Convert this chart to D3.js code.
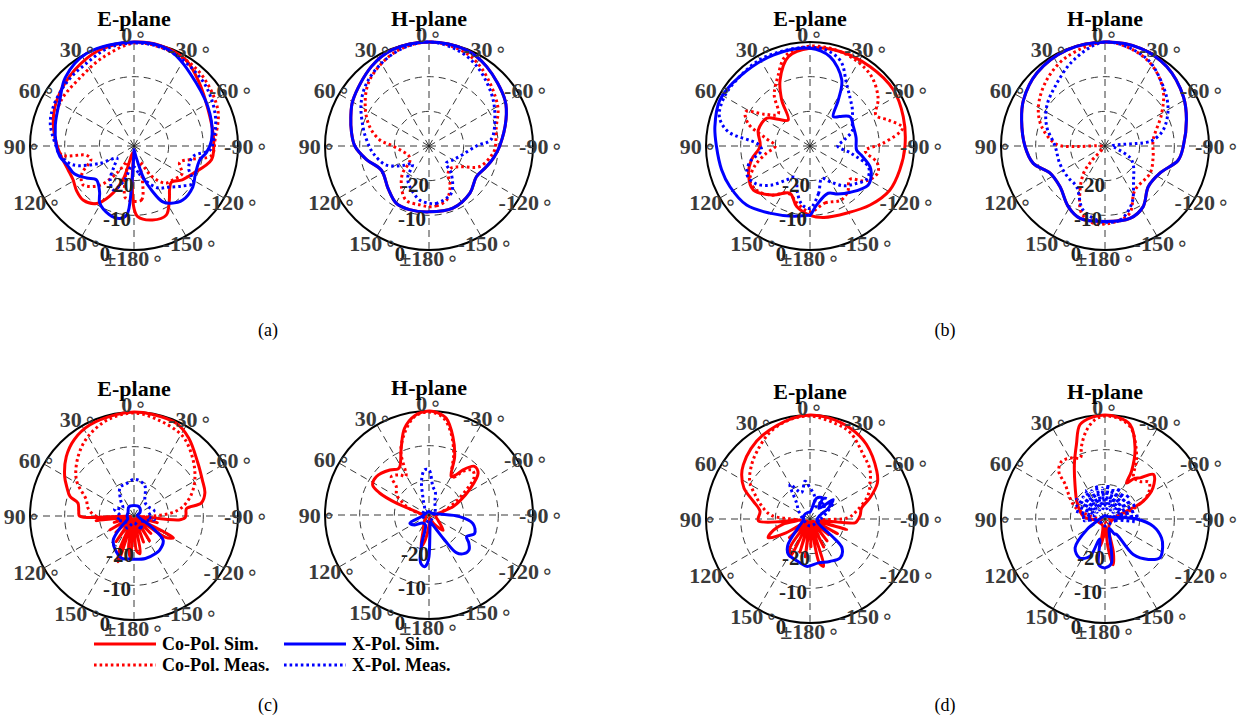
<!DOCTYPE html>
<html>
<head>
<meta charset="utf-8">
<script src="https://cdn.jsdelivr.net/npm/d3@7"></script>
<style>
  body { margin: 0; background: #fff; }
  svg { display: block; }
</style>
</head>
<body>
<svg id="chart" width="1246" height="720"></svg>
<script>
// ---- angular / radial ticks -------------------------------------------
const angleTicks  = [0, 30, 60, 90, 120, 150, 180, -150, -120, -90, -60, -30];
const angleLabels = ["0", "30", "60", "90", "120", "150", "\u00b1180", "-150", "-120", "-90", "-60", "-30"];
const radialTicks  = [-20, -10, 0];
const radialLabels = ["-20", "-10", "0"];
const seriesNames  = ["Co-Pol. Sim.", "Co-Pol. Meas.", "X-Pol. Sim.", "X-Pol. Meas."];
const captions     = ["(a)", "(b)", "(c)", "(d)"];

// ---- pattern data: [angle in degrees, gain in dB] ---------------------
// (a) E-plane
const aE_coSim  = [[-180,-12],[-177,-9.6],[-166,-8],[-155,-8],[-147,-11.3],[-140,-14],[-134,-15],[-125,-13],[-115,-11.2],[-100,-7.3],[-90,-7],[-81,-6.9],[-64,-6.2],[-46,-3.8],[-31,-1],[-14,0],[0,0],[20,-0.6],[38,-2.2],[57,-3.9],[72,-5.5],[88,-7.6],[100,-9],[110,-9.8],[119,-9.9],[128,-9],[137,-8.6],[147,-10.2],[154,-13.8],[162,-20],[170,-28],[177,-20]];
const aE_coMeas = [[-180,-14],[-172,-14.3],[-166,-20],[-160,-25],[-150,-20],[-140,-16],[-130,-15],[-120,-14],[-110,-16],[-103,-13],[-97,-7.5],[-85,-6.5],[-67,-3.7],[-45,-1.8],[-30,-1],[-15,-0.5],[0,-0.3],[20,-3],[40,-5],[58,-5.2],[74,-6.2],[88,-7.5],[97,-9],[101,-16],[107,-17],[118,-13],[127,-11.5],[139,-15],[148,-21],[157,-25],[165,-20],[170,-15],[174,-14.3]];
const aE_xSim   = [[-180,-29],[-170,-27],[-163,-20],[-158,-16],[-153,-12],[-147,-10.3],[-138,-9],[-125,-9.3],[-115,-10.5],[-102,-10.6],[-95,-9],[-86,-7.6],[-67,-6.2],[-45,-4.5],[-20,-0.5],[0,0],[27,0],[45,-2],[58,-4.8],[75,-6.5],[90,-7.6],[98,-8.4],[106,-10],[115,-11],[124,-13.5],[132,-15.4],[143,-13.5],[149,-10.8],[160,-9],[169,-8.7],[174,-10],[176.5,-18],[179,-28]];
const aE_xMeas  = [[-180,-24],[-170,-22],[-160,-19],[-150,-16],[-140,-14.5],[-130,-12],[-122,-9.8],[-112,-13],[-100,-12.7],[-93,-8],[-86,-7],[-70,-5],[-50,-3],[-30,-1.5],[-15,-0.5],[0,-0.3],[15,-0.8],[30,-2.5],[45,-3.2],[62,-4],[75,-5],[90,-7.5],[97,-8.5],[107,-11.5],[117,-19],[125,-24],[135,-22],[145,-18],[155,-16],[165,-20],[172,-24]];
// (a) H-plane
const aH_coSim  = [[-180,-11],[-159,-10.8],[-139,-12],[-123,-13.7],[-110,-12.4],[-100,-11],[-90,-9.6],[-71,-6.5],[-59,-4.4],[-36,-1.7],[-21,-0.3],[0,0],[21,-0.3],[36,-1.7],[59,-4.4],[70,-6],[80,-7.3],[90,-8.6],[102,-11.5],[117,-14.6],[136,-13],[150,-11],[163,-10.8]];
const aH_coMeas = [[-180,-12.5],[-173,-12.6],[-162,-13.6],[-152,-17],[-145,-20.4],[-135,-21],[-124,-19.3],[-112,-14.2],[-100,-12],[-93,-11],[-74,-9.8],[-60,-7.1],[-35,-3.1],[-20,-1],[0,0],[20,-1.2],[42,-4.4],[58,-8.3],[72,-12],[83,-15.7],[88,-18.7],[100,-22],[115,-23.5],[128,-23],[136,-19],[146,-15.8],[157,-13],[171,-12.8]];
const aH_xSim   = [[-180,-11],[-159,-10.8],[-139,-12],[-123,-13.7],[-110,-12.4],[-100,-11],[-90,-9.6],[-71,-6.5],[-59,-4.4],[-36,-1.7],[-21,-0.3],[0,0],[21,-0.3],[36,-1.7],[59,-4.4],[70,-6],[80,-7.3],[90,-8.6],[102,-11.5],[117,-14.6],[136,-13],[150,-11],[163,-10.8]];
const aH_xMeas  = [[-180,-13.5],[-173,-13.3],[-155,-14.9],[-141,-19.8],[-135,-23],[-120,-22],[-109,-20.7],[-90,-16.3],[-84,-12],[-66,-9.2],[-50,-6.5],[-30,-3],[-15,-1],[0,0],[15,-0.8],[30,-2.5],[45,-4.5],[58,-6.9],[74,-10.2],[85,-12],[97,-13.7],[114,-16.5],[128,-21],[137,-23],[146,-19],[155,-17],[170,-14.2]];
// (b) E-plane
const bE_coSim  = [[-180,-10],[-169,-9],[-151,-7.9],[-134.5,-5.7],[-119,-3.7],[-105,-3.2],[-90,-2.6],[-72.5,-1.8],[-56,-1],[-37,-1.3],[-17.6,-1.4],[0,-1.8],[13.6,-3.5],[24.4,-9.1],[31.6,-14.4],[40,-20.2],[50,-18],[57,-15.2],[73,-14.4],[90,-15.6],[103,-12.7],[114,-10.6],[128,-9.3],[143,-12.3],[157,-15.2],[167.6,-12.1]];
const bE_coMeas = [[-180,-11],[-165,-13],[-150,-12],[-140,-13],[-130,-15],[-122,-11],[-112,-9],[-104,-10],[-95,-14],[-88,-9],[-79,-2.8],[-72,-6],[-65,-9],[-55,-6],[-40,-3],[-20,-1.5],[0,-1.2],[15,-3],[25,-8],[35,-12],[45,-17],[55,-14],[62,-9],[70,-11],[80,-17],[90,-20],[100,-17],[110,-13],[120,-10],[130,-10],[142,-12],[155,-15],[168,-13]];
const bE_xSim   = [[-180,-10],[-173.5,-12.9],[-159,-15.4],[-150,-14],[-139,-12.3],[-124,-9.8],[-115,-10.5],[-109,-11.7],[-100,-15],[-95,-16.5],[-80,-16.5],[-66,-16.3],[-54,-15.7],[-45,-18],[-38.5,-19.2],[-31.6,-14.4],[-25.6,-8.8],[-12.6,-3.6],[0,-1.8],[22,-1.7],[45,-1.5],[63,-0.8],[78.5,-2],[90,-3],[105,-3.6],[117,-4.1],[133,-5],[149,-7.4],[167,-9.2],[179,-10]];
const bE_xMeas  = [[-180,-12],[-170,-16],[-160,-20],[-150,-18],[-140,-15],[-130,-13],[-120,-11],[-110,-12],[-100,-18],[-90,-22],[-80,-20],[-70,-17],[-60,-16],[-50,-14],[-40,-12],[-30,-9],[-20,-4],[-10,-2],[0,-1.5],[15,-1.5],[30,-1.2],[45,-1.5],[60,-1.5],[72,-2.5],[80,-6],[88,-15],[95,-16],[105,-12],[115,-10],[125,-11],[135,-14],[145,-18],[155,-20],[165,-16],[172,-13]];
// (b) H-plane
const bH_coSim  = [[-180,-8.2],[-161,-7.9],[-148,-9.3],[-133,-12.9],[-116,-12.3],[-101,-8.5],[-90,-7.4],[-72,-5.3],[-58,-3.3],[-38,-1],[-20,0],[0,0],[21.8,-0.2],[43,-1.2],[60.6,-3],[72.7,-4.8],[90,-6.9],[103.6,-8.7],[116,-12.3],[132,-12.5],[149,-9.5],[161,-7.9]];
const bH_coMeas = [[-180,-7.5],[-174,-7.8],[-160,-9.3],[-146,-14.6],[-121,-14.8],[-102,-15.8],[-83,-16],[-60,-11.1],[-46,-6.7],[-31,-3.2],[-16,-1.1],[0,0],[23,-2],[41.5,-4.6],[59.5,-7.7],[73,-10.9],[88,-16],[91,-22],[95,-29],[130,-29],[138,-24],[142,-19.9],[152,-14.5],[161,-9.4],[173,-7.3]];
const bH_xSim   = [[-180,-8.2],[-161,-7.9],[-148,-9.3],[-133,-12.9],[-116,-12.3],[-101,-8.5],[-90,-7.4],[-72,-5.3],[-58,-3.3],[-38,-1],[-20,0],[0,0],[21.8,-0.2],[43,-1.2],[60.6,-3],[72.7,-4.8],[90,-6.9],[103.6,-8.7],[116,-12.3],[132,-12.5],[149,-9.5],[161,-7.9]];
const bH_xMeas  = [[-180,-8],[-168.5,-8.2],[-155,-11.7],[-140,-17.2],[-125,-20],[-115,-22],[-100,-27],[-90,-28],[-85,-18],[-83,-16],[-74.7,-12.6],[-60,-9],[-44.5,-6],[-25,-2],[0,0],[20,-3.6],[40,-7.6],[56,-9.7],[71.7,-12.3],[90,-15.6],[111,-16],[130,-16],[145,-15.7],[161,-10.5],[176,-8.2]];
// (c) E-plane
const cE_coSim  = [[-178,-29],[-176,-20],[-171,-19],[-166,-29],[-160,-22],[-154,-29],[-148,-21.6],[-142,-29],[-136,-23],[-130,-29],[-124,-19],[-119,-17],[-114,-29],[-106,-23],[-100,-29],[-95,-17],[-92,-15.3],[-88,-15],[-82,-14.7],[-79,-10.2],[-72,-8.5],[-62,-7.7],[-50,-6],[-35,-2.5],[-24.5,-0.6],[-10,-0.2],[0,0],[10,-0.3],[26,-0.8],[38,-2],[48.7,-4],[60.4,-7],[67,-9],[73,-10.7],[77,-13.4],[85,-14],[90,-14.3],[92,-25],[94,-29],[97,-19],[101,-29],[108,-24],[114,-29],[120,-22],[126,-29],[132,-23],[138,-29],[145,-21],[151,-29],[157,-19],[161,-16],[165,-29],[170,-21],[175,-18]];
const cE_coMeas = [[-180,-29],[-120,-29],[-92,-26],[-86,-19.7],[-80,-16],[-70,-12.5],[-59.3,-9.6],[-46.5,-6.5],[-31.7,-3.1],[-15,-1.5],[0,-0.3],[15,-1.2],[30,-3.5],[43,-6.4],[58,-10.4],[71.4,-15.5],[80,-16.5],[90,-19],[93,-26],[120,-29]];
const cE_xSim   = [[-180,-17.5],[-165,-17.3],[-150,-17.5],[-143,-17.7],[-130,-19],[-122,-24],[-112,-28],[-80,-29],[-60,-28],[-30,-27],[0,-27],[30,-27],[60,-28],[90,-28],[115,-28],[130,-25],[139,-20.9],[150,-19],[164,-17.3],[172,-17.5]];
const cE_xMeas  = [[-180,-28],[-150,-26],[-120,-27],[-100,-24],[-90,-26],[-75,-24],[-60,-25],[-40,-25],[-19,-20.6],[-1,-19.4],[15,-20.5],[26,-20.8],[40,-24],[55,-26],[70,-24],[90,-26],[105,-25],[120,-27],[150,-26]];
// (c) H-plane
const cH_coSim  = [[-180,-27],[-170,-29],[-150,-27],[-137,-24],[-120,-27],[-100,-28],[-80,-27],[-71,-22.7],[-65,-20],[-58,-16.2],[-49.6,-11.4],[-43,-10.8],[-37,-13.7],[-34,-16],[-30,-17.2],[-23.7,-11.6],[-17,-6.4],[-10,-1.6],[-5,-0.4],[0,0],[8,-1],[15.7,-4],[22,-8.7],[31,-13.7],[34,-14],[41,-12.8],[54,-11.2],[62,-11.6],[66,-14.4],[70,-20],[75,-26],[85,-28],[110,-29],[140,-28],[160,-25],[166,-20.6],[170,-22]];
const cH_coMeas = [[-180,-29],[-100,-29],[-75,-26],[-65,-22],[-56,-17],[-50,-13],[-44,-12],[-38,-14],[-33,-17],[-28,-16],[-22,-11],[-15,-5.5],[-8,-1.5],[0,-0.3],[8,-1.2],[16,-5],[24,-10],[31,-17],[36,-15.7],[44.5,-14.5],[49,-17.5],[58,-19],[66,-22],[72,-24],[80,-27],[100,-29]];
const cH_xSim   = [[-180,-18],[-176,-26],[-170,-28],[-160,-27],[-155,-26],[-148,-21.5],[-144,-16.6],[-138,-15],[-131,-14.7],[-125,-16],[-120,-17.5],[-112,-15.8],[-101,-17.1],[-93,-21.2],[-85,-27],[-60,-29],[0,-29],[60,-29],[100,-28],[113,-24],[125,-25],[140,-27],[160,-27],[166,-21],[170,-16],[175,-15],[178,-16]];
const cH_xMeas  = [[-180,-28],[-60,-28],[-25,-26],[-15,-23],[-8,-21.8],[0,-17],[5.5,-16.9],[12,-19.7],[20,-25],[40,-28],[90,-28]];
// (d) E-plane
const dE_coSim  = [[-178,-22],[-172,-29],[-168,-17],[-164,-15.8],[-160,-29],[-154,-21],[-148,-29],[-142,-22],[-136,-29],[-130,-23],[-124,-29],[-118,-21],[-112,-28],[-106,-19],[-100,-27],[-95,-17],[-93,-16.5],[-86,-15.5],[-78,-14.8],[-70.7,-11.7],[-62,-8],[-54.4,-6.3],[-37,-3],[-23.7,-1.3],[-10,-0.3],[0,0],[10,-0.5],[29,-2.2],[40,-3.5],[50.8,-5.2],[57,-6.5],[65,-9],[72.7,-12.9],[81,-15.4],[92,-15.1],[96,-27],[101,-22],[107,-19],[114,-16.8],[120,-22],[126,-29],[132,-22],[138,-29],[145,-20],[152,-17.8],[158,-29],[163,-20],[168,-29],[173,-19],[178,-29]];
const dE_coMeas = [[-180,-29],[-150,-29],[-95,-27],[-88,-19],[-80,-16.3],[-68,-12],[-58,-9.5],[-50,-7.5],[-39.7,-5.9],[-25,-2.5],[-15,-1.5],[0,-0.3],[12,-0.8],[25,-2.5],[38,-5.2],[47,-7],[58,-9.5],[67,-13],[77,-16.2],[85,-19],[95,-27],[150,-29]];
const dE_xSim   = [[-180,-16.5],[-169,-17.1],[-155,-16.5],[-142,-15.8],[-132,-17.6],[-128,-22],[-120,-27],[-100,-28],[-70,-27],[-60,-24],[-50,-21.3],[-40,-26],[-30,-23],[-17.6,-23.7],[-10,-27],[0,-28],[20,-28],[60,-28],[100,-28],[125,-26],[140,-20],[148.7,-18],[160,-17.5],[176,-16.3]];
const dE_xMeas  = [[-180,-28],[-90,-27],[-70,-25],[-55,-22],[-45,-25],[-35,-22],[-25,-26],[-10,-23],[0,-21],[7.6,-19],[18,-22],[30,-18.5],[40,-24],[55,-26],[90,-28]];
// (d) H-plane
const dH_coSim  = [[-178,-28],[-174,-22],[-170,-16.6],[-166,-20],[-160,-27],[-140,-28],[-100,-28],[-80,-27],[-70,-23.4],[-65,-17.8],[-57,-13.5],[-47.5,-11],[-40.5,-14.4],[-36,-15.5],[-31,-17.9],[-29,-14.2],[-23,-7.8],[-14.8,-1.8],[-7,-0.4],[0,0],[7,-0.4],[14.8,-1.8],[21,-7],[29.4,-12],[41,-16.8],[58,-20.4],[73,-22.5],[85,-24],[95,-27],[120,-28],[160,-28],[170,-22],[175,-25]];
const dH_coMeas = [[-180,-29],[-100,-29],[-75,-24],[-65,-18],[-58,-15],[-50,-13.5],[-43,-15.2],[-35,-15.5],[-32.6,-14.8],[-27.4,-10.2],[-16,-2.7],[-8,-0.8],[0,-0.3],[5.7,-1.2],[12,-4],[18,-8],[22,-11],[28,-10],[37,-9.2],[44,-10.8],[49,-14.8],[59,-18.2],[69,-21],[80,-26],[100,-29]];
const dH_xSim   = [[-180,-15.9],[-172,-17],[-165,-25],[-155,-27],[-148,-25],[-143,-24.4],[-141.5,-16.9],[-133,-12.9],[-125,-10.6],[-116,-11.5],[-108.5,-12.8],[-98.6,-15.9],[-90,-20.9],[-80,-27],[-40,-29],[0,-29],[60,-29],[100,-28],[120,-24],[134,-18],[147,-16.6],[158,-18.4],[165,-24],[172,-16.7],[177,-16]];
const dH_xMeas  = [[-180,-28],[-100,-27],[-95,-21],[-90,-27],[-85,-20],[-80,-26],[-75,-21],[-70,-27],[-65,-20],[-60,-26],[-55,-21],[-50,-27],[-45,-20],[-40,-26],[-35,-21],[-30,-27],[-25,-20],[-20,-26],[-15,-21],[-10,-27],[-5,-20],[0,-26],[5,-21],[10,-27],[15,-20],[20,-26],[25,-21],[30,-27],[35,-20],[40,-26],[45,-21],[50,-27],[55,-20],[60,-26],[65,-21],[70,-27],[75,-21],[80,-26],[85,-23],[90,-27],[95,-24],[100,-28]];

// ---- layout -------------------------------------------------------------
const R = 104;
const panels = [
  { cx: 134,  cy: 146, title: "E-plane", data: [aE_coSim, aE_coMeas, aE_xSim, aE_xMeas] },
  { cx: 429,  cy: 146, title: "H-plane", data: [aH_coSim, aH_coMeas, aH_xSim, aH_xMeas] },
  { cx: 810,  cy: 146, title: "E-plane", data: [bE_coSim, bE_coMeas, bE_xSim, bE_xMeas] },
  { cx: 1105, cy: 146, title: "H-plane", data: [bH_coSim, bH_coMeas, bH_xSim, bH_xMeas] },
  { cx: 134,  cy: 516, title: "E-plane", data: [cE_coSim, cE_coMeas, cE_xSim, cE_xMeas] },
  { cx: 429,  cy: 515, title: "H-plane", data: [cH_coSim, cH_coMeas, cH_xSim, cH_xMeas] },
  { cx: 810,  cy: 519, title: "E-plane", data: [dE_coSim, dE_coMeas, dE_xSim, dE_xMeas] },
  { cx: 1105, cy: 519, title: "H-plane", data: [dH_coSim, dH_coMeas, dH_xSim, dH_xMeas] }
];
const captionPos = [[268, 330], [945, 330], [268, 705], [945, 705]];

const styles = [
  { color: "#ff0000", dash: null },
  { color: "#ff0000", dash: "2.6,3" },
  { color: "#0000ff", dash: null },
  { color: "#0000ff", dash: "2.6,3" }
];

const serif = "'Liberation Serif','Times New Roman',serif";
const svg = d3.select("#chart");

const r = d3.scaleLinear().domain([-30, 0]).range([0, R]).clamp(true);
const rad = deg => deg * Math.PI / 180;
// counter-clockwise angles, 0 at the top
const polar = (deg, rr) => [-rr * Math.sin(rad(deg)), -rr * Math.cos(rad(deg))];

const line = d3.lineRadial()
  .angle(d => -rad(d[0]))
  .radius(d => r(d[1]))
  .curve(d3.curveCatmullRomClosed.alpha(0.5));

const rLabelDx = [-14, -17, -29];

panels.forEach(p => {
  const g = svg.append("g").attr("transform", `translate(${p.cx},${p.cy})`);

  // dashed grid circles
  g.selectAll("circle.grid").data(radialTicks.filter(v => v < 0)).join("circle")
    .attr("r", d => r(d)).attr("fill", "none")
    .attr("stroke", "#222").attr("stroke-width", 0.9).attr("stroke-dasharray", "7,5");

  // dashed spokes
  g.selectAll("line.spoke").data(angleTicks).join("line")
    .attr("x1", 0).attr("y1", 0)
    .attr("x2", d => polar(d, R)[0]).attr("y2", d => polar(d, R)[1])
    .attr("stroke", "#222").attr("stroke-width", 0.9).attr("stroke-dasharray", "7,5");

  // outer circle
  g.append("circle").attr("r", r(0)).attr("fill", "none")
    .attr("stroke", "#000").attr("stroke-width", 2);

  // pattern curves
  p.data.forEach((series, i) => {
    const pts = series.slice().sort((a, b) => a[0] - b[0]);
    g.append("path").attr("d", line(pts))
      .attr("fill", "none")
      .attr("stroke", styles[i].color)
      .attr("stroke-width", 3)
      .attr("stroke-linejoin", "round")
      .attr("stroke-dasharray", styles[i].dash);
  });

  // radial labels
  g.selectAll("text.rl").data(radialTicks).join("text")
    .attr("x", (d, i) => rLabelDx[i])
    .attr("y", d => r(d) + 4)
    .attr("text-anchor", "middle").attr("dominant-baseline", "central")
    .attr("font-family", serif).attr("font-weight", "bold").attr("font-size", 21)
    .attr("fill", "#222")
    .text((d, i) => radialLabels[i]);

  // angular labels
  const al = g.selectAll("text.al").data(angleTicks).join("text")
    .attr("x", d => polar(d, 112)[0])
    .attr("y", d => polar(d, 112)[1])
    .attr("text-anchor", "middle").attr("dominant-baseline", "central")
    .attr("font-family", serif).attr("font-weight", "bold").attr("font-size", 22)
    .attr("fill", "#3a3a3a");
  al.append("tspan").text((d, i) => angleLabels[i]);
  al.append("tspan").attr("dx", 2)
    .attr("font-family", "'DejaVu Sans',sans-serif").attr("font-weight", "normal").attr("font-size", 20)
    .text("\u2218");

  // title
  g.append("text").attr("x", 0).attr("y", -128)
    .attr("text-anchor", "middle").attr("dominant-baseline", "central")
    .attr("font-family", serif).attr("font-weight", "bold").attr("font-size", 22)
    .attr("fill", "#000").text(p.title);
});

// captions
svg.selectAll("text.cap").data(captions).join("text")
  .attr("x", (d, i) => captionPos[i][0]).attr("y", (d, i) => captionPos[i][1])
  .attr("text-anchor", "middle").attr("dominant-baseline", "central")
  .attr("font-family", serif).attr("font-size", 18).attr("fill", "#000")
  .text(d => d);

// legend
const legendItems = [
  { x: 94,  y: 644, s: 0 }, { x: 94,  y: 665, s: 1 },
  { x: 284, y: 644, s: 2 }, { x: 284, y: 665, s: 3 }
];
const lg = svg.append("g");
legendItems.forEach(it => {
  lg.append("line").attr("x1", it.x).attr("x2", it.x + 62).attr("y1", it.y).attr("y2", it.y)
    .attr("stroke", styles[it.s].color).attr("stroke-width", 3)
    .attr("stroke-dasharray", styles[it.s].dash);
  lg.append("text").attr("x", it.x + 68).attr("y", it.y)
    .attr("dominant-baseline", "central")
    .attr("font-family", serif).attr("font-weight", "bold").attr("font-size", 18)
    .attr("fill", "#000").text(seriesNames[it.s]);
});
</script>
</body>
</html>
